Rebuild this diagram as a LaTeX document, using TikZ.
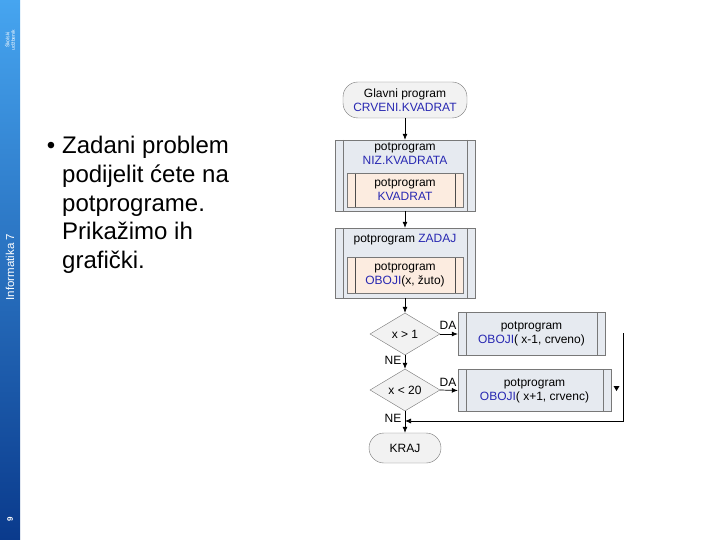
\documentclass[tikz,border=0pt]{standalone}
\usepackage{fontspec}
\setmainfont{Liberation Sans}
\usepackage{tikz}
\usetikzlibrary{shapes.geometric}
\usetikzlibrary{arrows.meta}
\usepackage{xcolor}

\definecolor{blu}{RGB}{40,40,178}
\definecolor{edge}{RGB}{120,120,120}
\definecolor{boxfill}{RGB}{230,234,240}
\definecolor{peach}{RGB}{252,236,224}
\definecolor{termfill}{RGB}{242,242,242}
\definecolor{barlight}{RGB}{70,165,240}
\definecolor{bardark}{RGB}{10,58,140}

\newcommand{\fs}{\fontsize{12}{13.8}\selectfont}

\tikzset{
  term/.style={draw=edge, fill=termfill, rounded corners=15pt, align=center, inner sep=0pt, font=\fs},
  sub/.style={draw=edge, fill=boxfill, inner sep=0pt,
    path picture={
      \draw[edge] ([xshift=8pt]path picture bounding box.north west) -- ([xshift=8pt]path picture bounding box.south west);
      \draw[edge] ([xshift=-8pt]path picture bounding box.north east) -- ([xshift=-8pt]path picture bounding box.south east);}},
  insub/.style={draw=edge, fill=peach, inner sep=0pt,
    path picture={
      \draw[black!70, line width=0.8pt] ([xshift=8pt]path picture bounding box.north west) -- ([xshift=8pt]path picture bounding box.south west);
      \draw[black!70, line width=0.8pt] ([xshift=-8pt]path picture bounding box.north east) -- ([xshift=-8pt]path picture bounding box.south east);}},
  txt/.style={align=center, font=\fs, inner sep=0pt},
  cond/.style={diamond, draw=edge, fill=termfill, minimum width=70pt, minimum height=42pt, aspect=1.67, inner sep=0pt, font=\fs},
  lbl/.style={font=\fs, inner sep=0pt},
  flow/.style={line width=0.7pt, -{Latex[length=6pt,width=5pt]}}
}

\begin{document}
\begin{tikzpicture}[x=1pt, y=-1pt]
\useasboundingbox (0,0) rectangle (720,540);
\fill[white] (0,0) rectangle (720,540);

% bocna traka
\shade[top color=barlight, bottom color=bardark] (0,0) rectangle (20,540);
\node (naslov) [rotate=90, white, font=\fontsize{11.5}{12}\selectfont, inner sep=0pt] at (10,267) {Informatika 7};
\node (skola) [rotate=90, white, font=\fontsize{5}{5.5}\selectfont, align=center, inner sep=0pt] at (10,40) {Školski\\udžbenik};
\node (stranica) [rotate=90, white, font=\bfseries\fontsize{8}{9}\selectfont, inner sep=0pt] at (10,519) {9};

% tekst
\node (bullet) [font=\fontsize{24}{29}\selectfont, inner sep=0pt, anchor=base] at (51,154) {•};
\node (opis) [font=\fontsize{24}{28.8}\selectfont, align=left, inner sep=0pt, anchor=north west] at (62,136)
  {Zadani problem\\podijelit ćete na\\potprograme.\\Prikažimo ih\\grafički.};

% dijagram
\node (start) [term, minimum width=124pt, minimum height=36pt] at (405,100)
  {Glavni program\\\textcolor{blu}{CRVENI.KVADRAT}};

\node (niz) [sub, minimum width=140pt, minimum height=71pt] at (405,175.5) {};
\node (nizlbl) [txt] at (405,154) {potprogram\\\textcolor{blu}{NIZ.KVADRATA}};
\node (kvadrat) [insub, minimum width=116pt, minimum height=34pt] at (405,190) {};
\node (kvadratlbl) [txt] at (405,190) {potprogram\\\textcolor{blu}{KVADRAT}};

\node (zadaj) [sub, minimum width=140pt, minimum height=70pt] at (405,263) {};
\node (zadajlbl) [txt] at (405,240) {potprogram \textcolor{blu}{ZADAJ}};
\node (oboji) [insub, minimum width=116pt, minimum height=36pt] at (405,275) {};
\node (obojilbl) [txt] at (405,275) {potprogram\\\textcolor{blu}{OBOJI}(x, žuto)};

\node (d1) [cond] at (405,334) {x > 1};
\node (d2) [cond] at (405,390) {x < 20};

\node (b1) [sub, minimum width=147pt, minimum height=43pt] at (531.5,334) {};
\node (b1lbl) [txt] at (531.5,334) {potprogram\\\textcolor{blu}{OBOJI}( x-1, crveno)};
\node (b2) [sub, minimum width=153pt, minimum height=42pt] at (534.5,390.5) {};
\node (b2lbl) [txt] at (534.5,390.5) {potprogram\\\textcolor{blu}{OBOJI}( x+1, crvenc)};

\node (kraj) [term, minimum width=72pt, minimum height=30pt] at (405,448) {KRAJ};

\draw [flow] (start) -- (niz);
\draw [flow] (niz) -- (zadaj);
\draw [flow] (zadaj) -- (d1);
\draw [flow] (d1) -- (d2);
\draw [flow] (d2) -- (kraj);
\draw [flow] (d1.east) -- (b1.west);
\draw [flow] (d2.east) -- (b2.west);

\node (da1) [lbl] at (448,325) {DA};
\node (da2) [lbl] at (448,382) {DA};
\node (ne1) [lbl] at (393,360) {NE};
\node (ne2) [lbl] at (393,418) {NE};

\coordinate (r1) at (623,333);
\coordinate (r2) at (623,421);
\coordinate (spoj) at (405,421);
\draw [flow] (r1) -- (r2) -- (spoj);
\fill (613.5,386) -- (619.5,386) -- (616.5,391) -- cycle;

\end{tikzpicture}
\end{document}
